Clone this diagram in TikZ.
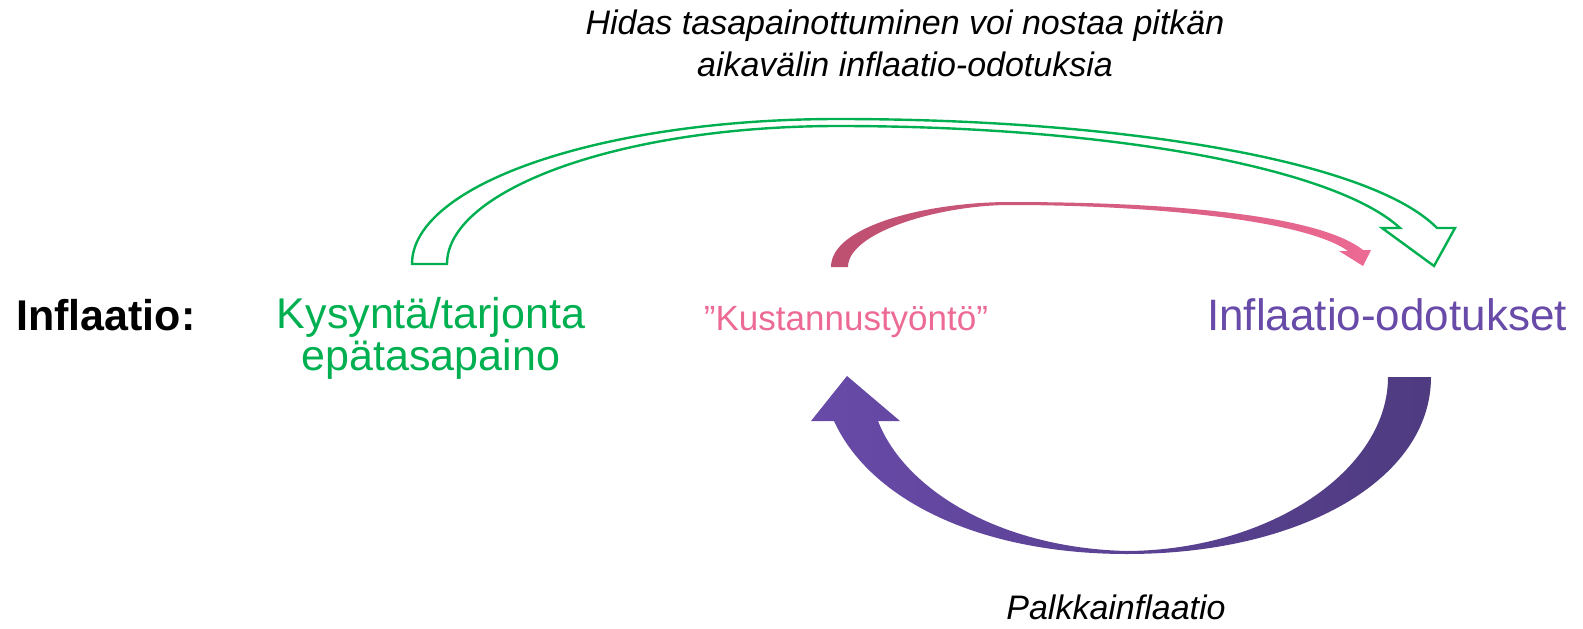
\documentclass[tikz,border=0pt]{standalone}
\usepackage{fontspec}
\setmainfont{Liberation Sans}
\usetikzlibrary{positioning,calc}
\definecolor{kgreen}{HTML}{00B050}
\definecolor{kpink}{HTML}{EC6A93}
\definecolor{kpinkdark}{HTML}{BD4F70}
\definecolor{kpurple}{HTML}{684AA8}
\definecolor{kpurpledark}{HTML}{4E3B80}
\tikzset{
    heading/.style={
        inner sep=0pt,
        anchor=base west,
        font=\bfseries\fontsize{43}{43}\selectfont,
    },
    cause/.style={
        inner sep=0pt,
        anchor=base,
        align=center,
        font=\fontsize{43}{40}\selectfont,
    },
    note/.style={
        inner sep=0pt,
        anchor=base,
        align=center,
        font=\itshape\fontsize{34}{42}\selectfont,
    },
    hollow/.style={
        draw=kgreen,
        line width=2.4pt,
        line join=miter,
        fill=white,
    },
    solid/.style={
        draw=none,
        shading=axis,
        shading angle=90,
    },
}

\begin{document}
\begin{tikzpicture}[x=1pt,y=-1pt]
                \useasboundingbox (0,0) rectangle (1583,629);

                \node [heading] (infl) at (16,330) {Inflaatio:};
                \node [cause, text=kgreen] (kys) at (431,370) {Kysyntä/tarjonta\\epätasapaino};
                \node [cause, text=kpink, font=\fontsize{35}{35}\selectfont] (kust) at (846,330) {”Kustannustyöntö”};
                \node [cause, text=kpurple, font=\fontsize{44}{44}\selectfont] (odot) at (1387,330) {Inflaatio-odotukset};
                \node [note] (hidas) at (905,76) {Hidas tasapainottuminen voi nostaa pitkän\\aikavälin inflaatio-odotuksia};
                \node [note] (palkka) at (1116,619) {Palkkainflaatio};

                % green hollow arrow over the top
                \draw [hollow] (412,264) .. controls (412,184) and (603,119) .. (838,119)
                    .. controls (1120,119) and (1370,160) .. (1437,228)
                    -- (1455,228) -- (1434,266) -- (1382,228) -- (1400,228)
                    .. controls (1335,168) and (1110,126) .. (838,126)
                    .. controls (620,126) and (447,190) .. (447,264) -- cycle;

                % pink arrow
                \path [solid, left color=kpinkdark, middle color=kpink!35, right color=kpink]
                    (831,267) .. controls (831,225) and (930,202) .. (1010,202)
                    .. controls (1150,202) and (1315,212) .. (1363,250)
                    -- (1371,250) -- (1363,266) -- (1339,251) -- (1348,251)
                    .. controls (1305,220) and (1150,205) .. (1010,205)
                    .. controls (940,205) and (848,232) .. (848,267) -- cycle;

                % purple arrow underneath
                \path [solid, left color=kpurple, right color=kpurpledark]
                    (1388,377) -- (1431,377) .. controls (1431,480) and (1300,554) .. (1127,554)
                    .. controls (980,554) and (870,500) .. (834,421)
                    -- (811,421) -- (847,376) -- (900,421) -- (878,421)
                    .. controls (905,490) and (1000,548) .. (1127,551)
                    .. controls (1270,550) and (1388,470) .. (1388,377) -- cycle;

\end{tikzpicture}
\end{document}
